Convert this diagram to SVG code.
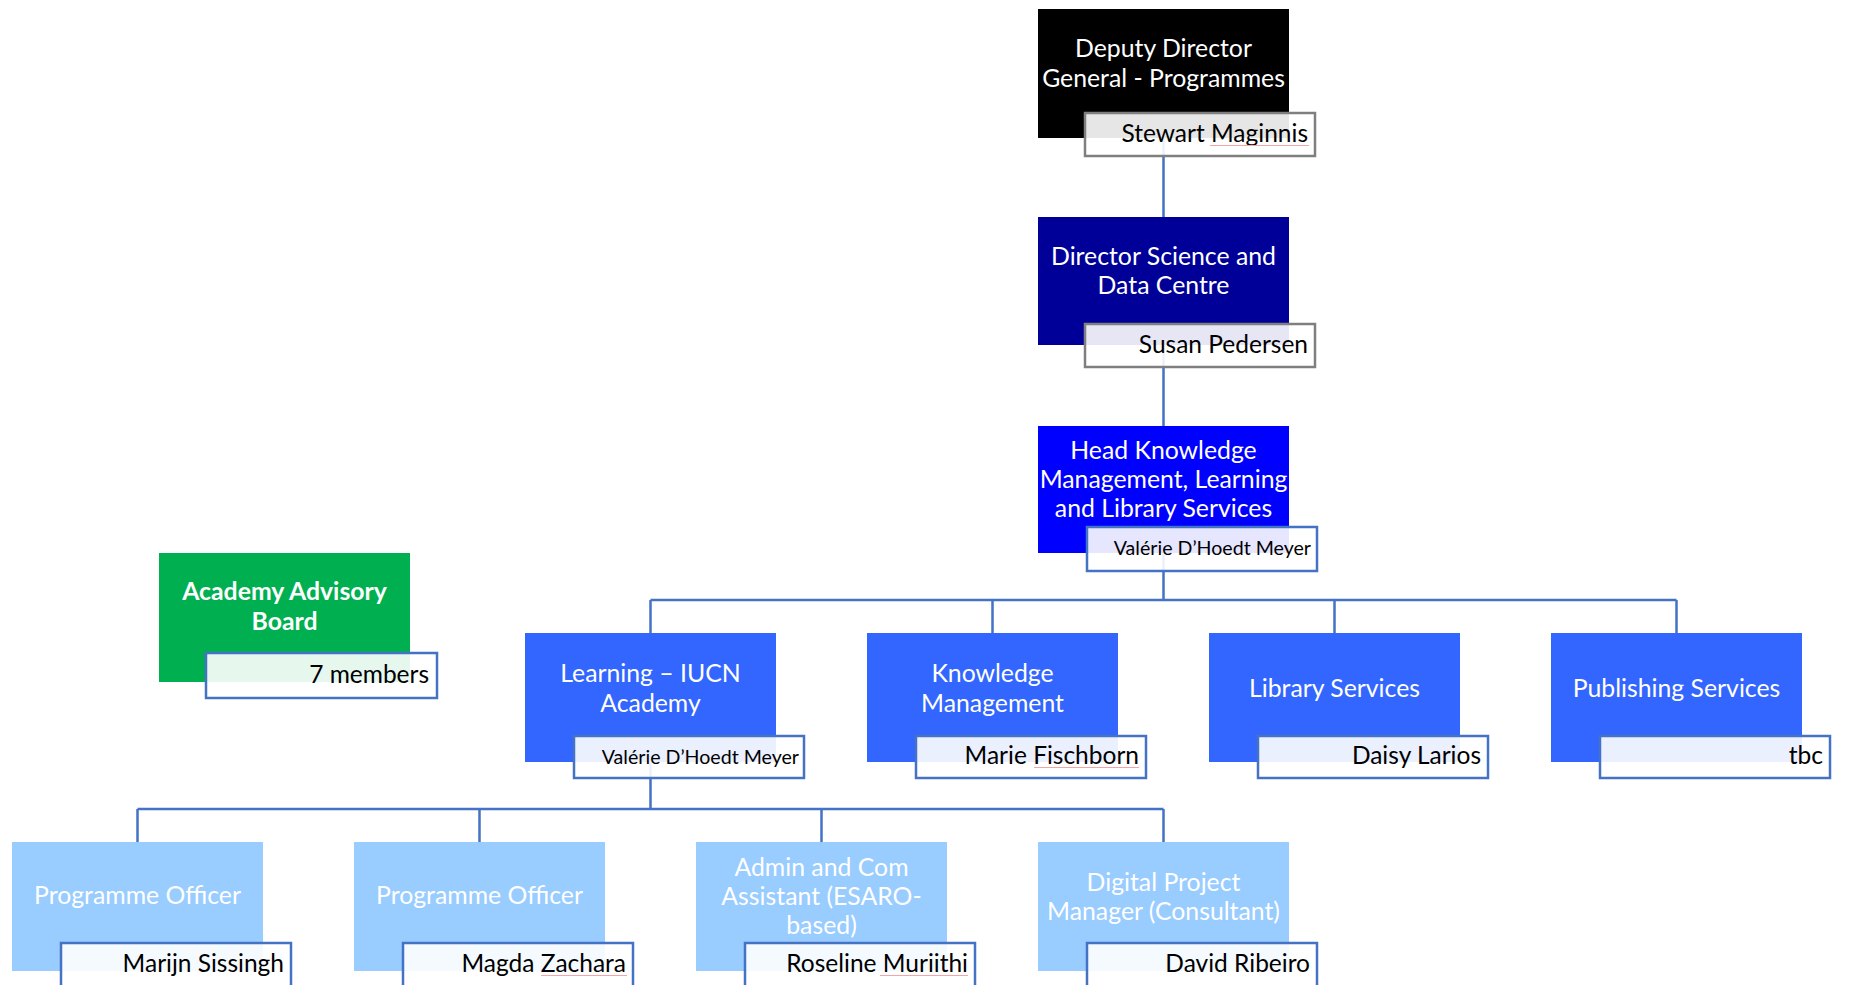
<svg xmlns="http://www.w3.org/2000/svg" width="1849" height="985" viewBox="0 0 1849 985">
<style>
.role{font-family:Lato,"Liberation Sans",sans-serif;font-size:24.8px;fill:#ffffff;text-anchor:middle}
.bold{font-weight:bold}
.name{font-family:Lato,"Liberation Sans",sans-serif;font-size:24.5px;fill:#000000;text-anchor:end}
.small{font-size:19.6px}
.nb{fill:#ffffff;fill-opacity:0.9;stroke:#4472C4;stroke-width:2.5}
.nbg{stroke:#7F7F7F}
.conn{fill:none;stroke:#4472C4;stroke-width:2.5}
.spell{fill:none;stroke:#F4A6A6;stroke-width:1}
</style>
<rect width="1849" height="985" fill="#ffffff"/>
<g id="connectors">
<path class="conn" d="M1163.5 138V217M1163.5 345V426M1163.5 553V600M650.5 600H1676.5M650.5 600V633M992.5 600V633M1334.5 600V633M1676.5 600V633M650.5 762V809M137.5 809H1163.5M137.5 809V842M479.5 809V842M821.5 809V842M1163.5 809V842"/>
</g>
<g id="ddg">
<rect x="1038" y="9" width="251" height="129" fill="#000000"/>
<text class="role" x="1163.5" y="57">Deputy Director</text>
<text class="role" x="1163.5" y="87">General - Programmes</text>
<rect class="nb nbg" x="1085" y="113" width="230" height="43"/>
<text class="name" x="1308" y="142">Stewart Maginnis</text>
</g>
<g id="director">
<rect x="1038" y="217" width="251" height="128" fill="#000099"/>
<text class="role" x="1163.5" y="265">Director Science and</text>
<text class="role" x="1163.5" y="294">Data Centre</text>
<rect class="nb nbg" x="1085" y="324" width="230" height="43"/>
<text class="name" x="1308" y="353">Susan Pedersen</text>
</g>
<g id="head">
<rect x="1038" y="426" width="251" height="127" fill="#0000FF"/>
<text class="role" x="1163.5" y="459">Head Knowledge</text>
<text class="role" x="1163.5" y="488">Management, Learning</text>
<text class="role" x="1163.5" y="517">and Library Services</text>
<rect class="nb" x="1087" y="527" width="230" height="44"/>
<text class="name small" x="1311" y="555">Valérie D’Hoedt Meyer</text>
</g>
<g id="advisory">
<rect x="159" y="553" width="251" height="129" fill="#00B050"/>
<text class="role bold" x="284.5" y="600">Academy Advisory</text>
<text class="role bold" x="284.5" y="630">Board</text>
<rect class="nb" x="206" y="653" width="231" height="45"/>
<text class="name" x="429" y="683">7 members</text>
</g>
<g id="learning">
<rect x="525" y="633" width="251" height="129" fill="#3366FF"/>
<text class="role" x="650.5" y="682">Learning – IUCN</text>
<text class="role" x="650.5" y="712">Academy</text>
<rect class="nb" x="574" y="736" width="230" height="42"/>
<text class="name small" x="799" y="764">Valérie D’Hoedt Meyer</text>
</g>
<g id="knowledge">
<rect x="867" y="633" width="251" height="129" fill="#3366FF"/>
<text class="role" x="992.5" y="682">Knowledge</text>
<text class="role" x="992.5" y="712">Management</text>
<rect class="nb" x="916" y="736" width="230" height="42"/>
<text class="name" x="1139" y="764">Marie Fischborn</text>
</g>
<g id="library">
<rect x="1209" y="633" width="251" height="129" fill="#3366FF"/>
<text class="role" x="1334.5" y="697">Library Services</text>
<rect class="nb" x="1258" y="736" width="230" height="42"/>
<text class="name" x="1481" y="764">Daisy Larios</text>
</g>
<g id="publishing">
<rect x="1551" y="633" width="251" height="129" fill="#3366FF"/>
<text class="role" x="1676.5" y="697">Publishing Services</text>
<rect class="nb" x="1600" y="736" width="230" height="42"/>
<text class="name" x="1823" y="764">tbc</text>
</g>
<g id="po1">
<rect x="12" y="842" width="251" height="129" fill="#99CCFF"/>
<text class="role" x="137.5" y="904">Programme Officer</text>
<rect class="nb" x="61" y="943" width="230" height="44"/>
<text class="name" x="284" y="972">Marijn Sissingh</text>
</g>
<g id="po2">
<rect x="354" y="842" width="251" height="129" fill="#99CCFF"/>
<text class="role" x="479.5" y="904">Programme Officer</text>
<rect class="nb" x="403" y="943" width="230" height="44"/>
<text class="name" x="626" y="972">Magda Zachara</text>
</g>
<g id="admin">
<rect x="696" y="842" width="251" height="129" fill="#99CCFF"/>
<text class="role" x="821.5" y="876">Admin and Com</text>
<text class="role" x="821.5" y="905">Assistant (ESARO-</text>
<text class="role" x="821.5" y="934">based)</text>
<rect class="nb" x="745" y="943" width="230" height="44"/>
<text class="name" x="968" y="972">Roseline Muriithi</text>
</g>
<g id="digital">
<rect x="1038" y="842" width="251" height="129" fill="#99CCFF"/>
<text class="role" x="1163.5" y="891">Digital Project</text>
<text class="role" x="1163.5" y="920">Manager (Consultant)</text>
<rect class="nb" x="1087" y="943" width="230" height="44"/>
<text class="name" x="1310" y="972">David Ribeiro</text>
</g>
<g id="spellcheck">
<path class="spell" d="M1210 145.5H1309M1034 767.5H1139M541 975.5H627M880 975.5H968"/>
</g>
</svg>
